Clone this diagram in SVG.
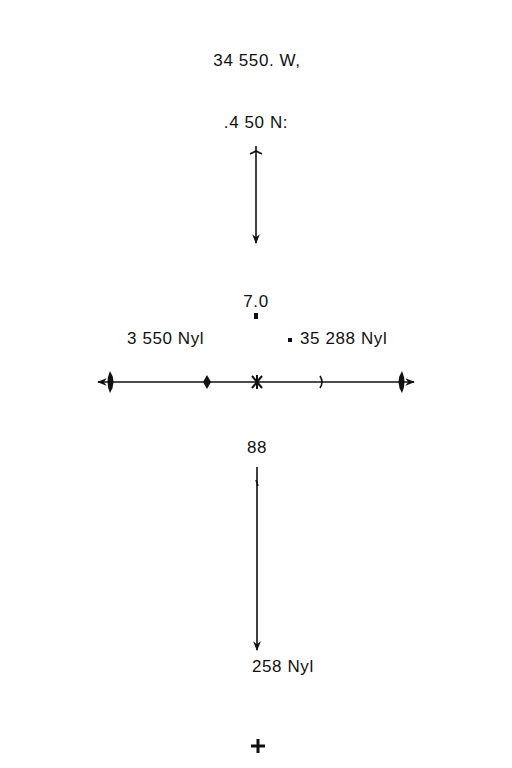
<svg xmlns="http://www.w3.org/2000/svg" width="512" height="768" viewBox="0 0 512 768">
<style>
text{font-family:"Liberation Sans",Arial,sans-serif;font-size:17px;letter-spacing:0.6px;fill:#111}
.ln{stroke:#111;stroke-width:1.6;fill:none}
.fl{fill:#111;stroke:none}
</style>
<defs>
<marker id="ah" viewBox="0 0 10 10" refX="9" refY="5" markerWidth="6" markerHeight="6" orient="auto-start-reverse"><path d="M0,1 L10,5 L0,9 L3,5Z" fill="#111"/></marker>
</defs>
<rect width="512" height="768" fill="#fff"/>
<g id="label-top"><text x="257" y="66" text-anchor="middle">34 550. W,</text></g>
<g id="label-n"><text x="256" y="128" text-anchor="middle">.4 50 N:</text></g>
<g id="label-70"><text x="256" y="307" text-anchor="middle">7.0</text><rect x="254" y="313" width="4" height="6" class="fl"/></g>
<g id="label-left"><text x="127" y="344">3 550 Nyl</text></g>
<g id="label-right"><rect x="288" y="338" width="4" height="4" class="fl"/><text x="300" y="344">35 288 Nyl</text></g>
<g id="label-88"><text x="257" y="453" text-anchor="middle">88</text></g>
<g id="label-bottom"><text x="252" y="672">258 Nyl</text></g>
<g id="plus"><path d="M258,739 V753 M251,746 H265" stroke="#111" stroke-width="3"/></g>
<g id="connectors">
<line x1="256" y1="146" x2="256" y2="243" class="ln" marker-end="url(#ah)"/>
<path d="M250,154 L256,151 L262,154" class="ln"/>
<line x1="98" y1="382" x2="414" y2="382" class="ln" marker-start="url(#ah)" marker-end="url(#ah)"/>
<path d="M110,371 Q117,382 110,393 Q105,382 110,371Z" class="fl"/>
<path d="M402,371 Q395,382 402,393 Q407,382 402,371Z" class="fl"/>
<path d="M207,375 L211,382 L207,389 L203,382Z" class="fl"/>
<path d="M252,376 L262,388 M262,376 L252,388 M257,375 V389" stroke="#111" stroke-width="2"/>
<path d="M320,376 Q324,382 320,388" class="ln"/>
<line x1="257" y1="467" x2="257" y2="650" class="ln" marker-end="url(#ah)"/>
<path d="M256,480 L258,486" class="ln"/>
</g>
</svg>
